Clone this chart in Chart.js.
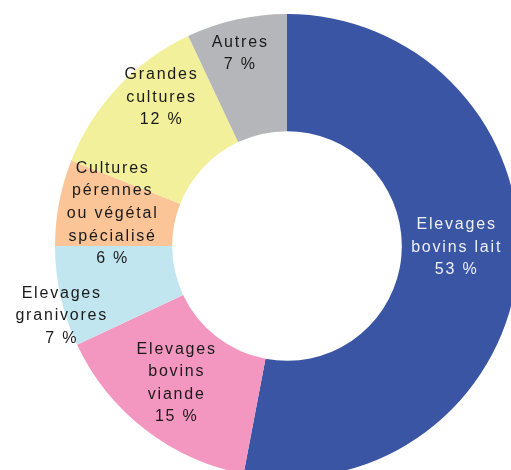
<!DOCTYPE html>
<html>
<head>
<meta charset="utf-8">
<script src="https://cdn.jsdelivr.net/npm/chart.js@4.4.1/dist/chart.umd.min.js"></script>
<style>
  html, body { margin: 0; padding: 0; background: #fff; overflow: hidden; }
  #wrap { position: absolute; left: 0; top: 0; width: 600px; height: 500px; }
</style>
</head>
<body>
<div id="wrap"><canvas id="pieChart" width="600" height="500"></canvas></div>
<script>
// categories, in drawing order (clockwise from 12 o'clock)
const categories = [
    ["Elevages", "bovins lait"],
    ["Elevages", "bovins", "viande"],
    ["Elevages", "granivores"],
    ["Cultures", "pérennes", "ou végétal", "spécialisé"],
    ["Grandes", "cultures"],
    ["Autres"]
];
const shares = [53, 15, 7, 6, 12, 7];
const colors = ["#3a55a4", "#f397c0", "#c2e6f0", "#fbc598", "#f2f09a", "#b5b6ba"];
const textColors = ["#eef0f6", "#1a1a1a", "#1a1a1a", "#1a1a1a", "#1a1a1a", "#1a1a1a"];

// nudges of each label from the middle of its slice
const labelShift = [[-4, -15], [-5, 0], [-57, 32], [-5, 0], [0, -30], [-10, -23]];

const sliceLabels = {
    id: "sliceLabels",
    afterDatasetsDraw(chart) {
        const ctx = chart.ctx;
        const arcs = chart.getDatasetMeta(0).data;
        const lineH = 22.6;
        ctx.save();
        ctx.font = "16px 'Liberation Sans', Arial, sans-serif";
        ctx.letterSpacing = "1.8px";
        ctx.textAlign = "center";
        ctx.textBaseline = "middle";
        arcs.forEach(function (arc, i) {
            const p = arc.getProps(["x", "y", "startAngle", "endAngle", "innerRadius", "outerRadius"]);
            const a = (p.startAngle + p.endAngle) / 2;
            const r = (p.innerRadius + p.outerRadius) / 2;
            const cx = p.x + Math.cos(a) * r + labelShift[i][0];
            const cy = p.y + Math.sin(a) * r + labelShift[i][1];
            const lines = categories[i].concat([shares[i] + " %"]);
            const top = cy - (lines.length - 1) * lineH / 2;
            ctx.fillStyle = textColors[i];
            lines.forEach(function (t, k) {
                ctx.fillText(t, cx + 1, top + k * lineH);
            });
        });
        ctx.restore();
    }
};

new Chart(document.getElementById("pieChart"), {
    type: "doughnut",
    data: {
        labels: categories.map(function (c) { return c.join(" "); }),
        datasets: [{
            data: shares,
            backgroundColor: colors,
            borderWidth: 0
        }]
    },
    options: {
        responsive: false,
        animation: false,
        cutout: "49.5%",
        layout: { padding: { left: 55, top: 14, right: 81, bottom: 22 } },
        plugins: {
            legend: { display: false },
            tooltip: { enabled: false }
        }
    },
    plugins: [sliceLabels]
});
</script>
</body>
</html>
